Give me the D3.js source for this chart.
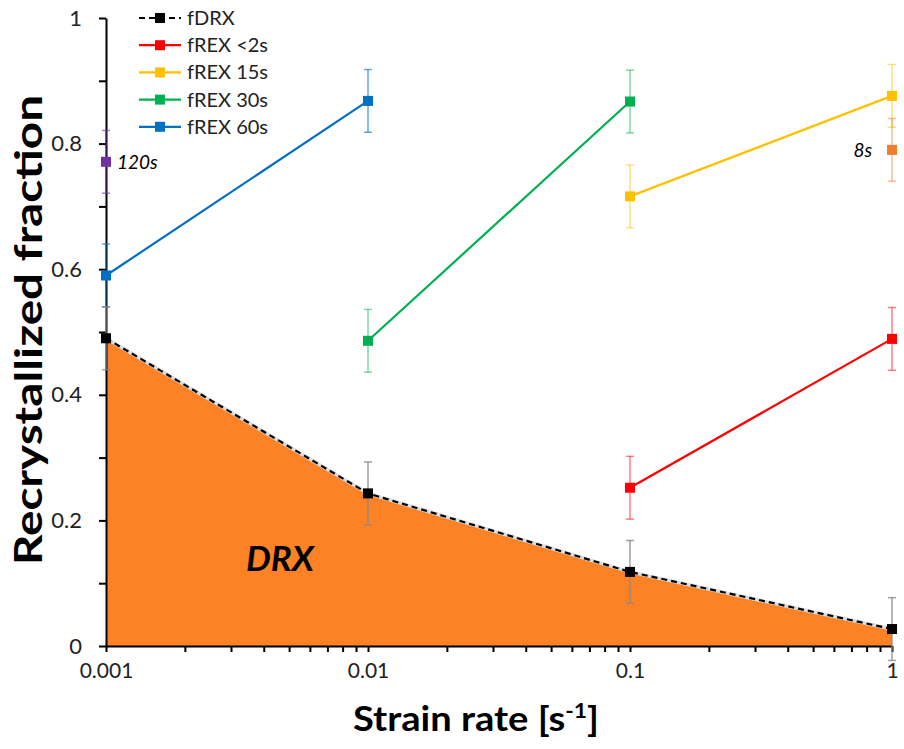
<!DOCTYPE html>
<html><head><meta charset="utf-8">
<script src="https://cdn.jsdelivr.net/npm/d3@7"></script>
<style>body{margin:0;background:#fff;} text{font-family:Lato,"Open Sans",sans-serif;}</style>
</head><body>
<svg id="c" width="904" height="749"></svg>
<script>
const rates = [0.001, 0.01, 0.1, 1];
const fDRX = [0.49, 0.243, 0.118, 0.027];
const rex2 = [{x:0.1,y:0.252},{x:1,y:0.489}];
const rex15 = [{x:0.1,y:0.716},{x:1,y:0.876}];
const rex30 = [{x:0.01,y:0.486},{x:0.1,y:0.867}];
const rex60 = [{x:0.001,y:0.59},{x:0.01,y:0.868}];
const rex120 = [{x:0.001,y:0.771}];
const rex8 = [{x:1,y:0.79}];
const errVal = 0.05;
const yTicks = [0, 0.2, 0.4, 0.6, 0.8, 1];
const xTickLabels = ["0.001","0.01","0.1","1"];
const legendNames = ["fDRX","fREX <2s","fREX 15s","fREX 30s","fREX 60s"];
const legendColors = ["#000000","#FF0000","#FFC000","#00B050","#0070C0"];

const svg = d3.select("#c");
const x = d3.scaleLog().domain([0.001,1]).range([106,892]);
const y = d3.scaleLinear().domain([0,1]).range([646,18]);

const drxData = rates.map((r,i)=>({x:r,y:fDRX[i]}));
svg.append("path").datum(drxData)
  .attr("d", d3.area().x(d=>x(d.x)).y0(y(0)).y1(d=>y(d.y)))
  .attr("fill","#FD8226");

const xAxis = d3.axisBottom(x).tickValues(d3.range(-3,0).flatMap(e=>d3.range(1,10).map(m=>m*Math.pow(10,e))).concat([1]))
  .tickFormat(d=>{const i=[0.001,0.01,0.1,1].findIndex(v=>Math.abs(v-d)<1e-9);return i>=0?xTickLabels[i]:"";})
  .tickSize(6).tickSizeOuter(0);
const gx = svg.append("g").attr("transform",`translate(0,${y(0)})`).call(xAxis);
gx.select(".domain").attr("stroke","#000").attr("stroke-width",2);
gx.selectAll(".tick line").attr("stroke","#000").attr("stroke-width",2);
gx.selectAll(".tick text").attr("font-size",21).attr("fill","#222").attr("y",13).attr("dy","0.9em");

const yAxis = d3.axisLeft(y).tickValues(d3.range(0,1.001,0.1))
  .tickFormat(d=>{const t=yTicks.find(v=>Math.abs(v-d)<1e-9);return t===undefined?"":d3.format("")(+t.toFixed(1));})
  .tickSize(7).tickSizeOuter(0);
const gy = svg.append("g").attr("transform",`translate(${x(0.001)},0)`).call(yAxis);
gy.select(".domain").attr("stroke","#000").attr("stroke-width",2);
gy.selectAll(".tick line").attr("stroke","#000").attr("stroke-width",2);
gy.selectAll(".tick text").attr("font-size",22).attr("fill","#222").attr("x",-24);

function errBars(data, color, op){
  const g = svg.append("g").attr("stroke",color).attr("stroke-opacity",op).attr("stroke-width",1.5);
  data.forEach(d=>{
    const cx=x(d.x), y1=y(d.y+errVal), y2=y(d.y-errVal);
    g.append("line").attr("x1",cx).attr("x2",cx).attr("y1",y1).attr("y2",y2);
    g.append("line").attr("x1",cx-4).attr("x2",cx+4).attr("y1",y1).attr("y2",y1);
    g.append("line").attr("x1",cx-4).attr("x2",cx+4).attr("y1",y2).attr("y2",y2);
  });
}
function series(data, color, dashed){
  const p = svg.append("path").datum(data).attr("fill","none").attr("stroke",color).attr("stroke-width",2.2)
    .attr("d", d3.line().x(d=>x(d.x)).y(d=>y(d.y)));
  if(dashed) p.attr("stroke-dasharray","6,4");
  svg.append("g").selectAll("rect").data(data).join("rect")
    .attr("x",d=>x(d.x)-5).attr("y",d=>y(d.y)-5).attr("width",10).attr("height",10).attr("fill",color);
}

errBars(rex120,"#7030A0",0.6);
errBars(rex60,"#0070C0",0.6);
errBars(rex30,"#00B050",0.5);
errBars(rex15,"#FFC000",0.5);
errBars(rex8,"#ED7D31",0.5);
errBars(rex2,"#FF0000",0.5);
errBars(drxData,"#888888",0.8);

series(rex2,"#FF0000");
series(rex15,"#FFC000");
series(rex30,"#00B050");
series(rex60,"#0070C0");
series(rex120,"#7030A0");
series(rex8,"#ED7D31");
svg.append("path").datum(drxData).attr("fill","none").attr("stroke","#ddd").attr("stroke-width",3.5)
  .attr("d", d3.line().x(d=>x(d.x)).y(d=>y(d.y)));
series(drxData,"#000000",true);

svg.append("text").attr("x",x(0.001)+11).attr("y",y(0.771)+7).attr("font-size",19).attr("font-style","italic").text("120s");
svg.append("text").attr("x",x(1)-20).attr("y",y(0.79)+7).attr("font-size",19).attr("font-style","italic").attr("text-anchor","end").text("8s");
svg.append("text").attr("x",280).attr("y",571).attr("font-size",35).attr("font-style","italic").attr("font-weight","bold").attr("text-anchor","middle").text("DRX");

svg.append("text").attr("transform","translate(42,330) rotate(-90)").attr("text-anchor","middle")
  .attr("font-size",38).attr("font-weight","bold")
  .attr("textLength",470).attr("lengthAdjust","spacingAndGlyphs").text("Recrystallized fraction");
const xt = svg.append("text").attr("x",476).attr("y",731).attr("text-anchor","middle").attr("font-size",35).attr("font-weight","bold")
  .attr("textLength",246).attr("lengthAdjust","spacingAndGlyphs");
xt.append("tspan").text("Strain rate [s");
xt.append("tspan").attr("font-size",21).attr("dy",-13).text("-1");
xt.append("tspan").attr("dy",13).text("]");

const lg = svg.append("g");
legendNames.forEach((n,i)=>{
  const yy = 18 + i*27.2;
  const l = lg.append("line").attr("x1",139).attr("x2",181).attr("y1",yy).attr("y2",yy).attr("stroke",legendColors[i]).attr("stroke-width",2.2);
  if(i===0) l.attr("stroke-dasharray","6,4");
  lg.append("rect").attr("x",155).attr("y",yy-5).attr("width",10).attr("height",10).attr("fill",legendColors[i]);
  lg.append("text").attr("x",187).attr("y",yy+7).attr("font-size",20).attr("fill","#222").text(n);
});
</script>
</body></html>
